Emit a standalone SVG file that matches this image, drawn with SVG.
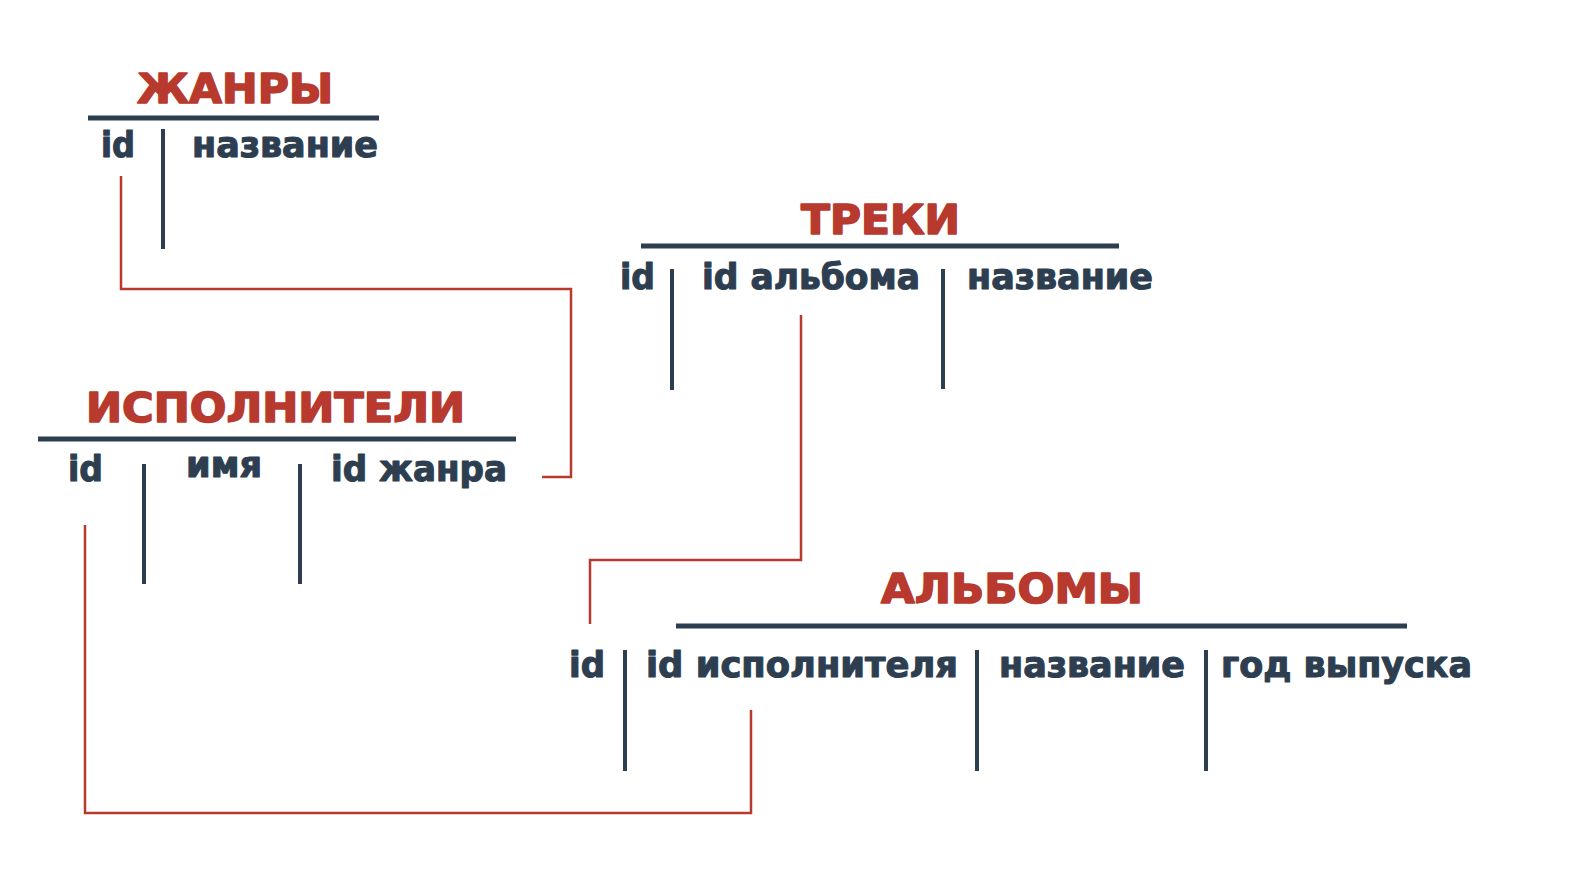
<svg xmlns="http://www.w3.org/2000/svg" width="1580" height="895" viewBox="0 0 1580 895">
<style>
  .title { font-family: "DejaVu Sans", "Liberation Sans", sans-serif; font-weight: 700; font-size: 41px; fill: #b83a2e; stroke: #b83a2e; stroke-width: 1.6px; stroke-linejoin: round; }
  .field { font-family: "DejaVu Sans", "Liberation Sans", sans-serif; font-weight: 700; font-size: 35px; fill: #2d3e50; stroke: #2d3e50; stroke-width: 1.1px; stroke-linejoin: round; }
  .rule { stroke: #2d3e50; stroke-width: 5; fill: none; }
  .div { stroke: #2d3e50; stroke-width: 4; fill: none; }
  .link { stroke: #b83a2e; stroke-width: 2.5; fill: none; }
</style>
<rect width="1580" height="895" fill="#ffffff"/>

<g id="genres">
  <text class="title" x="137" y="103" textLength="196" lengthAdjust="spacingAndGlyphs">ЖАНРЫ</text>
  <line class="rule" x1="88" y1="118" x2="379" y2="118"/>
  <text class="field" x="101" y="157" textLength="34" lengthAdjust="spacingAndGlyphs">id</text>
  <line class="div" x1="163" y1="129" x2="163" y2="249"/>
  <text class="field" x="192" y="157" textLength="186" lengthAdjust="spacingAndGlyphs">название</text>
</g>

<g id="tracks">
  <text class="title" x="801" y="234" textLength="159" lengthAdjust="spacingAndGlyphs">ТРЕКИ</text>
  <line class="rule" x1="641" y1="246" x2="1119" y2="246"/>
  <text class="field" x="620" y="289" textLength="35" lengthAdjust="spacingAndGlyphs">id</text>
  <line class="div" x1="672" y1="269" x2="672" y2="390"/>
  <text class="field" x="702" y="289" textLength="218" lengthAdjust="spacingAndGlyphs">id альбома</text>
  <line class="div" x1="943" y1="269" x2="943" y2="389"/>
  <text class="field" x="967" y="289" textLength="186" lengthAdjust="spacingAndGlyphs">название</text>
</g>

<g id="artists">
  <text class="title" x="86" y="422" textLength="379" lengthAdjust="spacingAndGlyphs">ИСПОЛНИТЕЛИ</text>
  <line class="rule" x1="38" y1="439" x2="516" y2="439"/>
  <text class="field" x="68" y="481" textLength="35" lengthAdjust="spacingAndGlyphs">id</text>
  <line class="div" x1="144" y1="464" x2="144" y2="584"/>
  <text class="field" x="186" y="477" textLength="76" lengthAdjust="spacingAndGlyphs">имя</text>
  <line class="div" x1="300" y1="464" x2="300" y2="584"/>
  <text class="field" x="331" y="481" textLength="176" lengthAdjust="spacingAndGlyphs">id жанра</text>
</g>

<g id="albums">
  <text class="title" x="881" y="603" textLength="262" lengthAdjust="spacingAndGlyphs">АЛЬБОМЫ</text>
  <line class="rule" x1="676" y1="626" x2="1407" y2="626"/>
  <text class="field" x="569" y="677" textLength="36" lengthAdjust="spacingAndGlyphs">id</text>
  <line class="div" x1="625" y1="650" x2="625" y2="771"/>
  <text class="field" x="646" y="677" textLength="312" lengthAdjust="spacingAndGlyphs">id исполнителя</text>
  <line class="div" x1="977" y1="650" x2="977" y2="771"/>
  <text class="field" x="999" y="677" textLength="186" lengthAdjust="spacingAndGlyphs">название</text>
  <line class="div" x1="1206" y1="650" x2="1206" y2="771"/>
  <text class="field" x="1221" y="677" textLength="251" lengthAdjust="spacingAndGlyphs">год выпуска</text>
</g>

<g id="connectors">
  <polyline class="link" points="121,176 121,289 571,289 571,477 542,477"/>
  <polyline class="link" points="801,315 801,560 590,560 590,624"/>
  <polyline class="link" points="85,525 85,813 751,813 751,710"/>
</g>
</svg>
